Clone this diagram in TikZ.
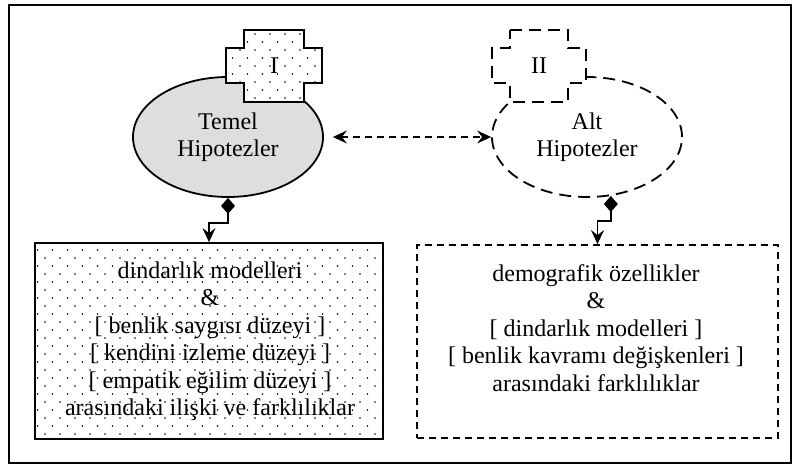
\documentclass[tikz,border=0pt]{standalone}
\usepackage{fontspec}
\setmainfont{Liberation Serif}
\usepackage{tikz}
\usetikzlibrary{shapes.geometric, arrows.meta, patterns}
\pgfdeclarepatternformonly{sparse dots}{\pgfqpoint{-1pt}{-1pt}}{\pgfqpoint{8.5pt}{9pt}}{\pgfqpoint{7.5pt}{8pt}}{%
  \pgfpathcircle{\pgfqpoint{0pt}{0pt}}{.45pt}%
  \pgfpathcircle{\pgfqpoint{3.75pt}{4pt}}{.45pt}%
  \pgfusepath{fill}}
\tikzstyle{hypo} = [ellipse, minimum width=95pt, minimum height=60pt, inner sep=0pt, align=center, line width=0.9pt, draw=black]
\tikzstyle{crossbox} = [line width=0.9pt, draw=black, fill=white]
\tikzstyle{resultbox} = [rectangle, line width=0.9pt, draw=black, fill=white]
\tikzstyle{longdash} = [dash pattern=on 6pt off 3.5pt]
\tikzstyle{shortdash} = [dash pattern=on 3.5pt off 2.5pt]
\tikzstyle{link} = [line width=0.8pt, {Diamond[length=8pt,width=7pt]}-{Stealth[length=7pt,width=6.5pt,inset=2.5pt]}]

\begin{document}
\begin{tikzpicture}[x=0.5pt, y=-0.5pt, font=\fontsize{12}{13.75}\selectfont]
        \useasboundingbox (0,0) rectangle (795,466);
        \draw[line width=1pt] (9,5) rectangle (791,463);

        % hypotheses
        \node[hypo, fill=black!13] (temel) at (228,137) {Temel\\Hipotezler};
        \node[hypo, longdash] (alt) at (587,137) {Alt\\Hipotezler};

        % crosses
        \coordinate (crossI) at (274,66);
        \coordinate (crossII) at (539,66);
        \draw[crossbox, postaction={pattern=sparse dots}] (crossI) ++(-30,-36) -- ++(60,0) -- ++(0,18) -- ++(18,0) -- ++(0,35) -- ++(-18,0) -- ++(0,19) -- ++(-60,0) -- ++(0,-19) -- ++(-18,0) -- ++(0,-35) -- ++(18,0) -- cycle;
        \draw[crossbox, longdash] (crossII) ++(-29,-36) -- ++(58,0) -- ++(0,18) -- ++(18,0) -- ++(0,35) -- ++(-18,0) -- ++(0,19) -- ++(-58,0) -- ++(0,-19) -- ++(-18,0) -- ++(0,-35) -- ++(18,0) -- cycle;
        \node (numI) at (crossI) {I};
        \node (numII) at (crossII) {II};

        % result boxes
        \node[resultbox, minimum width=174pt, minimum height=98pt, postaction={pattern=sparse dots}] (leftbox) at (209,341) {};
        \node[resultbox, shortdash, minimum width=180.5pt, minimum height=96.5pt] (rightbox) at (597.5,341.5) {};
        \node[align=center] (lefttext) at (210,341) {dindarlık modelleri\\\&\\{[} benlik saygısı düzeyi ]\\{[} kendini izleme düzeyi ]\\{[} empatik eğilim düzeyi ]\\arasındaki ilişki ve farklılıklar};
        \node[align=center] (righttext) at (596,328) {demografik özellikler\\\&\\{[} dindarlık modelleri ]\\{[} benlik kavramı değişkenleri ]\\arasındaki farklılıklar};

        \draw[shortdash, line width=0.8pt, {Stealth[length=7pt,width=6.5pt,inset=2.5pt]}-{Stealth[length=7pt,width=6.5pt,inset=2.5pt]}, shorten <=4.5pt] (temel.east) -- (alt.west);
        \draw[link] (temel.south) -- ++(0,25) -| (leftbox.north);
        \draw[link] (alt.-68) -- ++(0,25) -| (rightbox.north);

    \end{tikzpicture}
\end{document}
